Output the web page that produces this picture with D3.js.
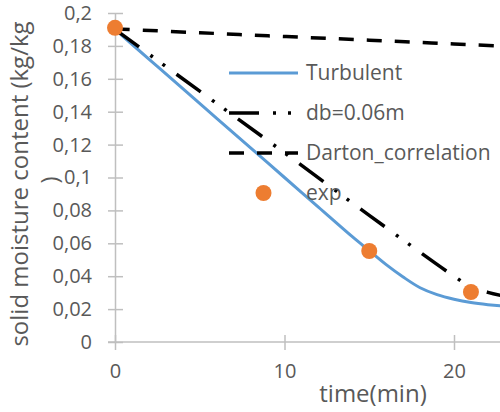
<!DOCTYPE html>
<html>
<head>
<meta charset="UTF-8" />
<title>moisture</title>
<script src="https://d3js.org/d3.v7.min.js"></script>
<style>
  body { margin: 0; background: #fff; }
  text { font-family: "Open Sans", sans-serif; fill: #595959; }
</style>
</head>
<body>
<svg id="chart" style="width:500px; height:412px; display:block"></svg>
<script>
// tick labels
var xTicks = [0, 10, 20]
var yTicks = [0, 0.02, 0.04, 0.06, 0.08, 0.1, 0.12, 0.14, 0.16, 0.18, 0.2]

// series (time in min, moisture kg/kg)
var turbT = [0, 2, 4, 6, 8, 10, 12, 14, 15, 16, 17, 18, 19, 20, 21, 22, 23, 25]
var turbV = [0.19, 0.172, 0.154, 0.136, 0.118, 0.1, 0.082, 0.064, 0.0555, 0.047, 0.0395, 0.033, 0.0288, 0.026, 0.024, 0.0227, 0.0218, 0.0208]
var dbT = [0, 5, 10, 15, 20, 21, 22, 23, 25]
var dbV = [0.19, 0.1525, 0.115, 0.077, 0.04, 0.0335, 0.0302, 0.0278, 0.024]
var dartonT = [0, 5, 10, 15, 20, 25]
var dartonV = [0.1903, 0.188, 0.1857, 0.1835, 0.1812, 0.179]
var expT = [0, 15, 21]
var expV = [0.191, 0.0553, 0.0304]

var legendNames = ["Turbulent", "db=0.06m", "Darton_correlation", "exp"]

var blue = "#5B9BD5", orange = "#ED7D31", axisGray = "#BFBFBF"

var svg = d3.select("#chart")

var xScale = d3.scaleLinear().domain([0, 25]).range([115, 538.75])
var yScale = d3.scaleLinear().domain([0, 0.2]).range([342, 13])

var fmt = d => d3.format("")(d).replace(".", ",")

// axes
var yAxis = d3.axisLeft(yScale).tickValues(yTicks).tickSizeInner(7).tickSizeOuter(0).tickPadding(16).tickFormat(fmt)
var yG = svg.append("g").attr("transform", "translate(115,0)").call(yAxis)
yG.selectAll(".tick line").attr("x2", 8).attr("x1", -7)

var xAxis = d3.axisBottom(xScale).tickValues(xTicks).tickSizeInner(8).tickSizeOuter(0).tickPadding(14).tickFormat(fmt)
var xG = svg.append("g").attr("transform", "translate(0,342)").call(xAxis)
xG.selectAll(".tick line").attr("y1", -7).attr("y2", 8)
xG.select(".domain").attr("d", "M108,0H500")

svg.selectAll(".domain, .tick line").attr("stroke", axisGray).attr("stroke-width", 1.5)
svg.selectAll(".tick text").style("font-size", "20px").attr("fill", "#595959")
xG.selectAll(".tick text").attr("dy", "0.71em")

// titles
svg.append("text").attr("x", 373).attr("y", 402).attr("text-anchor", "middle")
  .style("font-size", "24px").text("time(min)")
var yt = svg.append("text").attr("transform", "translate(28,184) rotate(-90)")
  .attr("text-anchor", "middle").style("font-size", "24px")
yt.append("tspan").attr("x", 0).attr("y", 0).text("solid moisture content (kg/kg")
yt.append("tspan").attr("x", 4).attr("y", 30).text(")")

// series
var plot = svg.append("g")
svg.append("clipPath").attr("id", "clip").append("rect")
  .attr("x", 0).attr("y", 0).attr("width", 500).attr("height", 412)
plot.attr("clip-path", "url(#clip)")

var line = d3.line().x(d => xScale(d[0])).y(d => yScale(d[1])).curve(d3.curveCatmullRom)

var dartonDash = "15,13"
var dbDash = "30,14,3,12,3,14"

plot.append("path").datum(d3.zip(turbT, turbV)).attr("d", line)
  .attr("fill", "none").attr("stroke", blue).attr("stroke-width", 3)
plot.append("path").datum(d3.zip(dbT, dbV)).attr("d", line)
  .attr("fill", "none").attr("stroke", "#000").attr("stroke-width", 3.5).attr("stroke-dasharray", dbDash)
plot.append("path").datum(d3.zip(dartonT, dartonV)).attr("d", line)
  .attr("fill", "none").attr("stroke", "#000").attr("stroke-width", 3.5).attr("stroke-dasharray", dartonDash)
plot.selectAll("circle").data(d3.zip(expT, expV)).join("circle")
  .attr("cx", d => xScale(d[0])).attr("cy", d => yScale(d[1])).attr("r", 8).attr("fill", orange)

// legend
var lg = svg.append("g").attr("transform", "translate(229,73)")
var styles = [
  {stroke: blue, dash: null, w: 3},
  {stroke: "#000", dash: dbDash, w: 3.5},
  {stroke: "#000", dash: dartonDash, w: 3.5},
  null
]
legendNames.forEach((name, i) => {
  var row = lg.append("g").attr("transform", "translate(0," + i * 40 + ")")
  if (styles[i]) {
    row.append("line").attr("x1", 0).attr("x2", 69).attr("y1", 0).attr("y2", 0)
      .attr("stroke", styles[i].stroke).attr("stroke-width", styles[i].w)
      .attr("stroke-dasharray", styles[i].dash)
  } else {
    row.append("circle").attr("cx", 34.5).attr("cy", 0).attr("r", 8).attr("fill", orange)
  }
  row.append("text").attr("x", 77).attr("y", 0).attr("dy", "0.35em")
    .style("font-size", "21px").text(name)
})
</script>
</body>
</html>
